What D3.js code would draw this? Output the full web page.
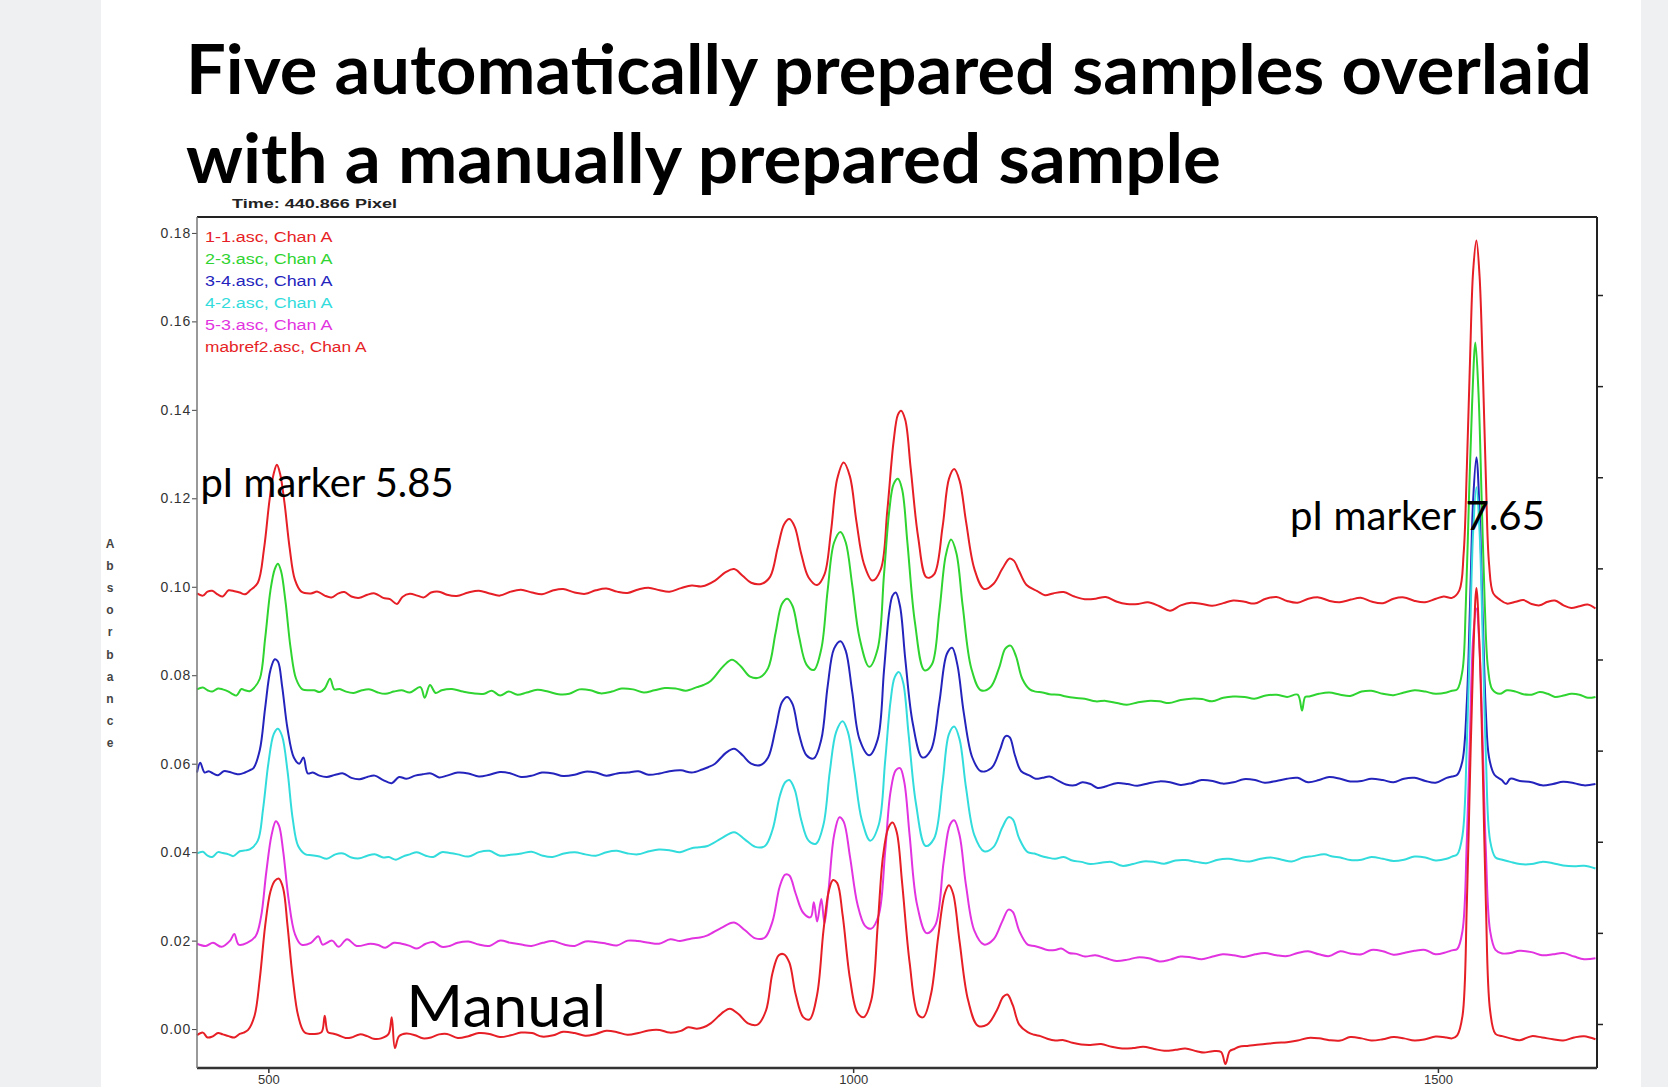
<!DOCTYPE html>
<html>
<head>
<meta charset="utf-8">
<script src="https://cdn.jsdelivr.net/npm/d3@7"></script>
<style>
  body { margin: 0; background: #fff; }
  svg { display: block; }
</style>
</head>
<body>
<svg width="1668" height="1087"></svg>
<script>
// axis ranges and ticks
var pixelDomain = [439, 1636]
var absDomain = [-0.0088, 0.1836]
var absTicks = [0, 0.02, 0.04, 0.06, 0.08, 0.10, 0.12, 0.14, 0.16, 0.18]
var pixelTicks = [500, 1000, 1500]
var rightDomain = [-0.483, 8.856]
var rightTicks = [0, 1, 2, 3, 4, 5, 6, 7, 8]

var titleLines = ["Five automatically prepared samples overlaid", "with a manually prepared sample"]
var timeLabel = "Time:  440.866  Pixel"
var yLabel = "Absorbance"
var legendNames = ["1-1.asc, Chan A", "2-3.asc, Chan A", "3-4.asc, Chan A", "4-2.asc, Chan A", "5-3.asc, Chan A", "mabref2.asc, Chan A"]
var colors = ["#e61e25", "#2fd431", "#2424bd", "#33dcdc", "#e233e0", "#e61e25"]

// traces: [pixel, absorbance]  (main points, then baseline noise)
var run11 = [[439,0.0985],[448,0.0989],[457,0.0982],[466,0.0992],[475.5,0.0987],[484.5,0.0992],[491,0.1009],[496.4,0.1088],[501,0.1196],[504.6,0.1256],[507.3,0.1276],[510,0.1256],[513.7,0.1192],[518.2,0.1088],[522.7,0.1016],[528.2,0.0989],[536.4,0.0985],[548.2,0.0980],[560,0.0985],[571,0.0978],[584.6,0.0982],[598.2,0.0975],[610,0.0961],[614.6,0.0977],[627.3,0.0980],[639.1,0.0987],[652.8,0.0982],[671,0.0987],[689.1,0.0985],[707.3,0.0989],[725.5,0.0987],[743.7,0.0992],[761.9,0.0987],[780,0.0992],[798.2,0.0989],[816.4,0.0994],[834.6,0.0992],[852.8,0.0997],[871,0.1001],[881.9,0.1014],[891,0.1033],[898.2,0.1040],[905.5,0.1025],[912.8,0.1009],[921.9,0.1007],[929.1,0.1023],[935.5,0.1088],[940.9,0.1141],[945.5,0.1153],[950,0.1136],[955.5,0.1076],[961.9,0.1021],[969.2,0.1004],[975.5,0.1028],[981,0.1124],[986.4,0.1244],[991.9,0.1281],[997.3,0.1249],[1002.8,0.1148],[1009.2,0.1052],[1016.4,0.1014],[1023.7,0.1040],[1029.2,0.1172],[1034.6,0.1329],[1038.3,0.1389],[1041,0.1398],[1044.6,0.1377],[1049.2,0.1268],[1055.6,0.1112],[1062.8,0.1021],[1069.2,0.1028],[1076.5,0.1136],[1081.9,0.1244],[1086.4,0.1266],[1091,0.1240],[1096.5,0.1148],[1103.7,0.1040],[1111.9,0.0995],[1120.1,0.1007],[1127.4,0.1040],[1133.8,0.1064],[1137.4,0.1059],[1142,0.1035],[1148.3,0.1004],[1157.4,0.0990],[1171,0.0985],[1189.2,0.0978],[1207.4,0.0973],[1225.6,0.0966],[1243.7,0.0961],[1261.9,0.0956],[1271,0.0946],[1280.1,0.0958],[1298.3,0.0961],[1316.5,0.0963],[1334.7,0.0966],[1352.8,0.0973],[1371,0.0968],[1389.2,0.0973],[1407.4,0.0968],[1425.6,0.0971],[1443.8,0.0966],[1462,0.0973],[1480.1,0.0968],[1498.3,0.0973],[1512,0.0975],[1518.3,0.0992],[1522,0.1076],[1524.7,0.1268],[1527.4,0.1509],[1530.1,0.1714],[1532.9,0.1783],[1535.6,0.1702],[1538.3,0.1497],[1541,0.1244],[1543.7,0.1052],[1547.3,0.0985],[1552.9,0.0971],[1566.5,0.0966],[1580.1,0.0961],[1593.8,0.0966],[1607.4,0.0958],[1621,0.0956],[1634.7,0.0951],
  [444,0.0980],[452,0.0991],[461,0.0978],[471,0.0990],[480,0.0983],[542,0.0989],[554,0.0976],[565,0.0988],[578,0.0975],[591,0.0985],[604,0.0972],[621,0.0984],[633,0.0976],[646,0.0989],[661,0.0979],[680,0.0991],[698,0.0980],[716,0.0993],[734,0.0983],[752,0.0995],[771,0.0984],[789,0.0996],[807,0.0986],[825,0.0998],[843,0.0989],[862,0.1003],[1164,0.0981],[1180,0.0988],[1198,0.0972],[1216,0.0977],[1234,0.0961],[1252,0.0965],[1289,0.0964],[1307,0.0957],[1325,0.0969],[1343,0.0962],[1362,0.0977],[1380,0.0964],[1398,0.0976],[1416,0.0965],[1434,0.0975],[1453,0.0963],[1471,0.0976],[1489,0.0965],[1505,0.0978],[1559,0.0962],[1573,0.0970],[1587,0.0958],[1600,0.0969],[1614,0.0952],[1628,0.0960]]

var run23 = [[439,0.0768],[448,0.0766],[457,0.0770],[466,0.0763],[472.7,0.0754],[480,0.0766],[487.3,0.0770],[492.7,0.0792],[497.3,0.0884],[501.8,0.0992],[505.5,0.1040],[508.2,0.1052],[510.9,0.1035],[514.6,0.0968],[519.1,0.0860],[523.7,0.0792],[529.1,0.0768],[539.1,0.0766],[548.2,0.0770],[552.8,0.0792],[556.4,0.0768],[566.4,0.0763],[580,0.0766],[593.7,0.0761],[607.3,0.0763],[621,0.0761],[630,0.0773],[633.7,0.0749],[638.2,0.0778],[648.2,0.0766],[666.4,0.0763],[684.6,0.0758],[698.2,0.0754],[705.5,0.0763],[720.9,0.0761],[739.1,0.0763],[757.3,0.0758],[775.5,0.0766],[793.7,0.0763],[811.9,0.0768],[830.1,0.0766],[848.2,0.0770],[866.4,0.0773],[878.2,0.0787],[889.2,0.0821],[896.4,0.0835],[903.7,0.0821],[911.9,0.0797],[920.1,0.0795],[927.3,0.0816],[933.7,0.0896],[939.1,0.0961],[943.7,0.0973],[948.3,0.0956],[953.7,0.0888],[960.1,0.0824],[966.4,0.0812],[972.8,0.0860],[978.2,0.0992],[983.7,0.1100],[989.2,0.1124],[993.7,0.1100],[999.2,0.1004],[1005.5,0.0884],[1013.7,0.0819],[1021,0.0860],[1026.4,0.1028],[1030.9,0.1172],[1034.6,0.1232],[1038.3,0.1244],[1041.9,0.1220],[1046.4,0.1100],[1052.8,0.0920],[1061,0.0811],[1067.3,0.0824],[1073.7,0.0944],[1079.2,0.1071],[1083.7,0.1107],[1088.3,0.1076],[1093.7,0.0956],[1101,0.0816],[1109.2,0.0766],[1117.4,0.0773],[1124.7,0.0816],[1130.1,0.0860],[1134.6,0.0867],[1139.2,0.0843],[1144.6,0.0792],[1151,0.0768],[1161.9,0.0761],[1175.6,0.0756],[1189.2,0.0749],[1207.4,0.0741],[1225.6,0.0737],[1243.7,0.0739],[1261.9,0.0741],[1280.1,0.0744],[1298.3,0.0746],[1316.5,0.0749],[1334.7,0.0751],[1352.8,0.0754],[1371,0.0751],[1380.1,0.0756],[1383.8,0.0720],[1386.5,0.0751],[1398.3,0.0758],[1416.5,0.0756],[1434.7,0.0763],[1452.9,0.0758],[1471,0.0761],[1489.2,0.0763],[1507.4,0.0761],[1516.5,0.0768],[1521,0.0811],[1523.8,0.0956],[1526.5,0.1196],[1529.2,0.1413],[1532,0.1552],[1534.7,0.1437],[1537.4,0.1196],[1540.1,0.0956],[1542.8,0.0816],[1546.5,0.0768],[1552.9,0.0758],[1566.5,0.0763],[1580.1,0.0756],[1593.8,0.0758],[1607.4,0.0754],[1621,0.0756],[1634.7,0.0751],
  [444,0.0772],[452,0.0763],[461,0.0768],[469,0.0758],[477,0.0769],[484,0.0764],[544,0.0762],[561,0.0769],[573,0.0760],[587,0.0768],[600,0.0758],[614,0.0766],[643,0.0760],[657,0.0769],[675,0.0759],[691,0.0765],[713,0.0756],[730,0.0767],[748,0.0757],[766,0.0768],[784,0.0759],[802,0.0770],[821,0.0761],[839,0.0771],[857,0.0765],[872,0.0778],[1156,0.0763],[1168,0.0757],[1182,0.0752],[1198,0.0747],[1216,0.0742],[1234,0.0733],[1252,0.0742],[1270,0.0737],[1289,0.0747],[1307,0.0741],[1325,0.0752],[1343,0.0747],[1362,0.0756],[1390,0.0752],[1407,0.0761],[1425,0.0753],[1443,0.0765],[1462,0.0755],[1480,0.0766],[1498,0.0758],[1512,0.0765],[1559,0.0766],[1573,0.0757],[1587,0.0762],[1600,0.0751],[1614,0.0758],[1628,0.0749]]

var run34 = [[439,0.0580],[441.8,0.0602],[445.5,0.0580],[452.7,0.0578],[461.8,0.0583],[470.9,0.0578],[480,0.0580],[487.3,0.0590],[492.7,0.0631],[497.3,0.0727],[501.8,0.0812],[505.5,0.0836],[508.2,0.0831],[511.8,0.0775],[516.4,0.0679],[521.8,0.0614],[526.4,0.0600],[530,0.0614],[533.7,0.0578],[543.7,0.0573],[557.3,0.0575],[571,0.0568],[584.6,0.0570],[598.2,0.0563],[605.5,0.0556],[611.8,0.0570],[625.5,0.0573],[639.1,0.0578],[652.8,0.0573],[671,0.0578],[689.1,0.0575],[707.3,0.0578],[725.5,0.0573],[743.7,0.0578],[761.9,0.0575],[780,0.0580],[798.2,0.0578],[816.4,0.0583],[834.6,0.0578],[852.8,0.0585],[871,0.0587],[881.9,0.0600],[891,0.0624],[898.2,0.0634],[905.5,0.0619],[912.8,0.0600],[920.9,0.0597],[927.3,0.0614],[933.7,0.0679],[939.1,0.0739],[943.7,0.0751],[948.3,0.0734],[953.7,0.0667],[960.1,0.0619],[966.4,0.0612],[972.8,0.0655],[978.2,0.0775],[983.7,0.0860],[989.2,0.0877],[993.7,0.0855],[999.2,0.0763],[1005.5,0.0655],[1013.7,0.0619],[1021,0.0655],[1026.4,0.0811],[1030.9,0.0944],[1033.7,0.0980],[1036.4,0.0987],[1040.1,0.0956],[1044.6,0.0836],[1051,0.0691],[1059.2,0.0614],[1066.5,0.0631],[1073.7,0.0739],[1080.1,0.0848],[1084.6,0.0862],[1089.1,0.0824],[1094.6,0.0715],[1101.9,0.0614],[1109.2,0.0583],[1118.3,0.0590],[1125.5,0.0631],[1130.1,0.0662],[1133.8,0.0660],[1138.3,0.0619],[1143.7,0.0583],[1151,0.0573],[1161.9,0.0568],[1175.6,0.0561],[1189.2,0.0551],[1202.9,0.0554],[1216.5,0.0549],[1234.6,0.0554],[1252.8,0.0556],[1271,0.0558],[1289.2,0.0556],[1307.4,0.0561],[1325.3,0.0558],[1343.7,0.0563],[1362,0.0561],[1380.1,0.0568],[1398.3,0.0563],[1416.5,0.0566],[1434.7,0.0561],[1452.9,0.0563],[1471,0.0566],[1489.2,0.0561],[1507.4,0.0568],[1516.5,0.0575],[1521,0.0607],[1524.7,0.0739],[1527.4,0.0956],[1530.1,0.1196],[1532.9,0.1293],[1535.6,0.1172],[1538.3,0.0932],[1541,0.0715],[1543.7,0.0614],[1548.3,0.0575],[1554.6,0.0563],[1558.2,0.0554],[1561.9,0.0566],[1580.1,0.0558],[1598.3,0.0554],[1616.5,0.0556],[1634.7,0.0554],
  [449,0.0583],[457,0.0574],[466,0.0582],[475,0.0576],[484,0.0585],[538,0.0580],[550,0.0570],[564,0.0578],[578,0.0565],[591,0.0573],[618,0.0566],[632,0.0576],[646,0.0569],[662,0.0580],[680,0.0571],[698,0.0581],[716,0.0570],[734,0.0580],[752,0.0572],[771,0.0582],[789,0.0573],[807,0.0580],[825,0.0575],[843,0.0583],[862,0.0580],[876,0.0592],[1156,0.0566],[1168,0.0571],[1182,0.0553],[1196,0.0558],[1209,0.0545],[1225,0.0556],[1243,0.0550],[1262,0.0560],[1280,0.0552],[1298,0.0563],[1316,0.0555],[1334,0.0565],[1352,0.0557],[1371,0.0566],[1389,0.0558],[1407,0.0570],[1425,0.0560],[1443,0.0566],[1462,0.0558],[1480,0.0568],[1498,0.0557],[1512,0.0571],[1570,0.0561],[1589,0.0551],[1607,0.0559],[1625,0.0551]]

var run42 = [[439,0.0397],[448,0.0392],[457,0.0400],[466,0.0395],[475.5,0.0402],[484.5,0.0407],[491,0.0426],[495.5,0.0498],[500,0.0600],[504.6,0.0667],[508.2,0.0679],[511.8,0.0662],[516.4,0.0583],[520.9,0.0474],[525.5,0.0414],[531.8,0.0395],[543.7,0.0390],[557.3,0.0395],[571,0.0388],[584.6,0.0392],[598.2,0.0388],[609.1,0.0383],[621,0.0395],[634.6,0.0392],[648.2,0.0400],[661.9,0.0395],[680,0.0400],[698.2,0.0392],[716.4,0.0397],[734.6,0.0392],[752.8,0.0397],[771,0.0395],[789.1,0.0400],[807.3,0.0397],[825.5,0.0402],[843.7,0.0404],[861.9,0.0409],[875.5,0.0414],[887.3,0.0431],[898.2,0.0445],[907.3,0.0429],[916.4,0.0412],[924.6,0.0414],[931,0.0450],[937.3,0.0527],[941.9,0.0558],[945.5,0.0563],[950.1,0.0541],[955.5,0.0474],[961.9,0.0426],[968.3,0.0419],[974.6,0.0462],[980.1,0.0583],[985.5,0.0672],[991,0.0696],[995.5,0.0672],[1001,0.0583],[1007.3,0.0474],[1014.6,0.0426],[1021.9,0.0462],[1027.4,0.0607],[1031.9,0.0739],[1035.5,0.0795],[1039.2,0.0807],[1042.8,0.0783],[1047.4,0.0667],[1053.7,0.0510],[1062,0.0414],[1069.2,0.0431],[1076.5,0.0558],[1081.9,0.0667],[1086.4,0.0684],[1091,0.0655],[1096.5,0.0546],[1103.7,0.0438],[1111.9,0.0402],[1120.1,0.0412],[1127.4,0.0455],[1132.8,0.0479],[1136.5,0.0474],[1142,0.0431],[1149.2,0.0400],[1160.1,0.0392],[1172.8,0.0385],[1187.4,0.0381],[1202.9,0.0373],[1221,0.0378],[1239.2,0.0373],[1257.4,0.0378],[1275.6,0.0381],[1293.7,0.0378],[1311.9,0.0383],[1330.1,0.0381],[1348.3,0.0385],[1366.5,0.0383],[1384.7,0.0388],[1402.8,0.0395],[1416.5,0.0388],[1434.7,0.0383],[1452.9,0.0385],[1471,0.0383],[1489.2,0.0388],[1507.4,0.0385],[1516.5,0.0395],[1521,0.0438],[1524.7,0.0643],[1527.4,0.0884],[1530.1,0.1124],[1532.9,0.1225],[1535.6,0.1124],[1538.3,0.0884],[1541,0.0619],[1544.6,0.0426],[1549.2,0.0388],[1561.9,0.0378],[1580.1,0.0373],[1598.3,0.0375],[1616.5,0.0368],[1634.7,0.0363],
  [444,0.0401],[452,0.0389],[461,0.0398],[470,0.0391],[480,0.0404],[537,0.0393],[550,0.0385],[564,0.0397],[578,0.0386],[591,0.0395],[603,0.0389],[615,0.0390],[627,0.0400],[641,0.0389],[655,0.0398],[671,0.0390],[689,0.0403],[707,0.0394],[725,0.0401],[743,0.0389],[762,0.0400],[780,0.0392],[798,0.0403],[816,0.0395],[834,0.0406],[852,0.0400],[868,0.0411],[1155,0.0397],[1166,0.0388],[1180,0.0389],[1195,0.0378],[1212,0.0376],[1230,0.0369],[1248,0.0379],[1266,0.0374],[1284,0.0382],[1302,0.0375],[1321,0.0385],[1339,0.0379],[1357,0.0388],[1375,0.0379],[1393,0.0391],[1410,0.0390],[1425,0.0382],[1443,0.0389],[1462,0.0380],[1480,0.0390],[1498,0.0381],[1512,0.0390],[1555,0.0383],[1570,0.0373],[1589,0.0378],[1607,0.0370],[1625,0.0369]]

var run53 = [[439,0.0193],[446.4,0.0188],[452.7,0.0195],[460,0.0186],[467.3,0.0200],[470.9,0.0215],[474.6,0.0191],[481.8,0.0195],[489.1,0.0210],[493.7,0.0253],[498.2,0.0354],[502.7,0.0438],[506.4,0.0470],[509.1,0.0460],[512.7,0.0402],[517.3,0.0294],[522.7,0.0215],[528.2,0.0191],[536.4,0.0195],[542.7,0.0210],[546.4,0.0191],[554.6,0.0200],[560,0.0186],[567.3,0.0203],[575.5,0.0188],[587.3,0.0193],[600,0.0184],[607.3,0.0195],[620.9,0.0188],[634.6,0.0193],[648.2,0.0186],[661.9,0.0195],[680,0.0191],[698.2,0.0200],[716.4,0.0191],[734.6,0.0195],[752.8,0.0191],[771,0.0198],[789.1,0.0193],[807.3,0.0200],[825.5,0.0195],[843.7,0.0203],[861.9,0.0205],[875.5,0.0212],[887.3,0.0229],[898.2,0.0241],[907.3,0.0224],[916.4,0.0205],[924.6,0.0207],[931,0.0243],[937.3,0.0323],[941.9,0.0349],[945.5,0.0347],[950.9,0.0306],[957.3,0.0263],[963.7,0.0253],[966.4,0.0287],[969.2,0.0243],[972.8,0.0294],[975.5,0.0239],[979.1,0.0318],[983.7,0.0438],[988.3,0.0479],[991.9,0.0469],[997.3,0.0390],[1003.7,0.0282],[1010,0.0234],[1015.5,0.0227],[1021.9,0.0258],[1027.4,0.0402],[1031.9,0.0535],[1036.4,0.0585],[1040.1,0.0590],[1043.7,0.0559],[1048.3,0.0438],[1054.6,0.0282],[1062.8,0.0217],[1070.1,0.0234],[1077.4,0.0378],[1082.8,0.0462],[1086.4,0.0472],[1091,0.0438],[1096.5,0.0325],[1103.7,0.0222],[1111.9,0.0191],[1120.1,0.0203],[1127.4,0.0243],[1132.8,0.0270],[1136.5,0.0265],[1142,0.0222],[1149.2,0.0191],[1160.1,0.0184],[1172.8,0.0179],[1184.6,0.0172],[1198.3,0.0164],[1216.5,0.0160],[1234.6,0.0157],[1252.8,0.0160],[1271,0.0157],[1289.2,0.0162],[1307.4,0.0164],[1325.3,0.0167],[1343.7,0.0169],[1362,0.0167],[1380.1,0.0172],[1398.3,0.0169],[1416.5,0.0176],[1434.7,0.0169],[1452.9,0.0176],[1471,0.0172],[1489.2,0.0179],[1507.4,0.0174],[1516.5,0.0181],[1521,0.0222],[1524.7,0.0426],[1527.4,0.0667],[1530.1,0.0884],[1532.9,0.0951],[1535.6,0.0860],[1538.3,0.0643],[1541,0.0402],[1544.6,0.0222],[1549.2,0.0179],[1561.9,0.0172],[1580.1,0.0174],[1598.3,0.0169],[1616.5,0.0164],[1634.7,0.0160],
  [594,0.0190],[614,0.0193],[627,0.0182],[641,0.0197],[655,0.0188],[671,0.0198],[689,0.0188],[707,0.0195],[725,0.0188],[743,0.0199],[762,0.0188],[780,0.0197],[798,0.0189],[816,0.0199],[834,0.0193],[852,0.0199],[869,0.0207],[1155,0.0188],[1166,0.0179],[1178,0.0182],[1191,0.0170],[1207,0.0167],[1225,0.0154],[1243,0.0162],[1262,0.0153],[1280,0.0164],[1298,0.0158],[1316,0.0169],[1334,0.0163],[1352,0.0172],[1371,0.0165],[1389,0.0176],[1407,0.0165],[1425,0.0171],[1443,0.0179],[1462,0.0168],[1480,0.0177],[1498,0.0169],[1512,0.0178],[1555,0.0171],[1570,0.0177],[1589,0.0167],[1607,0.0172],[1625,0.0158]]

var manual = [[439,-0.0014],[448,-0.0019],[457,-0.0009],[466,-0.0016],[475.5,-0.0011],[482.7,-0.0002],[488.2,0.0030],[492.7,0.0114],[497.3,0.0234],[501.8,0.0311],[505.5,0.0335],[509.1,0.0340],[512.7,0.0318],[516.4,0.0234],[520.9,0.0114],[525.5,0.0030],[530.9,-0.0007],[539.1,-0.0011],[545.5,-0.0007],[548.2,0.0030],[550.9,-0.0007],[560,-0.0014],[571,-0.0019],[584.6,-0.0016],[596.4,-0.0021],[602.8,-0.0011],[605.5,0.0027],[608.2,-0.0043],[611.8,-0.0016],[625.5,-0.0014],[639.1,-0.0019],[652.8,-0.0011],[671,-0.0016],[689.1,-0.0011],[707.3,-0.0014],[725.5,-0.0009],[743.7,-0.0014],[761.9,-0.0009],[780,-0.0011],[798.2,-0.0007],[816.4,-0.0009],[834.6,-0.0002],[852.8,-0.0004],[866.4,0.0001],[878.2,0.0013],[889.2,0.0039],[894.6,0.0046],[901.9,0.0034],[910.1,0.0013],[918.3,0.0010],[925.5,0.0042],[931,0.0126],[936.4,0.0167],[940.9,0.0169],[945.5,0.0150],[950.9,0.0078],[957.3,0.0027],[962.8,0.0022],[969.2,0.0078],[974.6,0.0222],[979.1,0.0311],[982.8,0.0337],[986.4,0.0330],[991,0.0258],[997.3,0.0114],[1003.7,0.0037],[1009.2,0.0027],[1015.5,0.0065],[1021,0.0234],[1025.5,0.0390],[1030.1,0.0455],[1033.7,0.0467],[1037.3,0.0445],[1041.9,0.0330],[1048.3,0.0150],[1055.6,0.0032],[1060.1,0.0027],[1066.5,0.0078],[1072.8,0.0210],[1078.3,0.0306],[1081.9,0.0325],[1085.5,0.0306],[1091,0.0198],[1098.3,0.0065],[1106.5,0.0008],[1114.6,0.0010],[1122.8,0.0042],[1128.3,0.0073],[1131.9,0.0078],[1136.5,0.0054],[1142,0.0010],[1149.2,-0.0007],[1160.1,-0.0016],[1172.8,-0.0026],[1187.4,-0.0031],[1202.9,-0.0036],[1221,-0.0040],[1239.2,-0.0043],[1257.4,-0.0045],[1275.6,-0.0047],[1293.7,-0.0050],[1307.4,-0.0050],[1314.6,-0.0052],[1318.3,-0.0079],[1322,-0.0050],[1330.1,-0.0040],[1343.7,-0.0036],[1362,-0.0031],[1380.1,-0.0026],[1398.3,-0.0021],[1416.5,-0.0026],[1434.7,-0.0021],[1452.9,-0.0023],[1471,-0.0021],[1489.2,-0.0023],[1507.4,-0.0019],[1516.5,-0.0014],[1521,0.0030],[1524.7,0.0282],[1527.4,0.0570],[1530.1,0.0835],[1532.9,0.0997],[1535.6,0.0860],[1538.3,0.0595],[1541,0.0282],[1544.6,0.0042],[1549.2,-0.0011],[1561.9,-0.0021],[1580.1,-0.0016],[1598.3,-0.0023],[1616.5,-0.0019],[1634.7,-0.0023],
  [444,-0.0008],[452,-0.0017],[461,-0.0012],[471,-0.0019],[479,-0.0008],[555,-0.0010],[566,-0.0020],[578,-0.0012],[590,-0.0022],[618,-0.0010],[632,-0.0021],[646,-0.0012],[662,-0.0020],[680,-0.0009],[698,-0.0018],[716,-0.0008],[734,-0.0017],[752,-0.0006],[771,-0.0015],[789,-0.0004],[807,-0.0013],[825,-0.0003],[843,-0.0008],[859,0.0004],[872,0.0004],[1155,-0.0013],[1166,-0.0022],[1180,-0.0025],[1195,-0.0035],[1212,-0.0034],[1230,-0.0044],[1248,-0.0040],[1266,-0.0049],[1284,-0.0044],[1300,-0.0053],[1326,-0.0045],[1337,-0.0038],[1352,-0.0034],[1371,-0.0030],[1389,-0.0020],[1407,-0.0025],[1425,-0.0018],[1443,-0.0026],[1462,-0.0018],[1480,-0.0026],[1498,-0.0017],[1512,-0.0021],[1555,-0.0016],[1570,-0.0025],[1589,-0.0019],[1607,-0.0026],[1625,-0.0016]]

var series = [run11, run23, run34, run42, run53, manual]

var notes = [
  {text: "pI marker 5.85", x: 442, y: 0.1203, size: 40, width: 253},
  {text: "pI marker 7.65", x: 1373.5, y: 0.1128, size: 40, width: 255},
  {text: "Manual", x: 618, y: 0.0004, size: 58, width: 200}
]

var svg = d3.select("svg"),
    width = +svg.attr("width"),
    height = +svg.attr("height")

var margin = {top: 217, right: 71, bottom: 19, left: 197}

var x = d3.scaleLinear().domain(pixelDomain).range([margin.left, width - margin.right])
var y = d3.scaleLinear().domain(absDomain).range([height - margin.bottom, margin.top])
var yRight = d3.scaleLinear().domain(rightDomain).range([height - margin.bottom, margin.top])

// slide background with grey side bands
svg.append("rect").attr("width", width).attr("height", height).attr("fill", "#fff")
svg.append("rect").attr("width", 101).attr("height", height).attr("fill", "#eff0f2")
svg.append("rect").attr("x", 1641).attr("width", width - 1641).attr("height", height).attr("fill", "#eff0f2")

// title
svg.append("g").selectAll("text")
  .data(titleLines)
  .enter().append("text")
    .attr("x", 186)
    .attr("y", function(d, i) { return 94 + i * 89 })
    .attr("textLength", function(d, i) { return i == 0 ? 1406 : 1035 })
    .attr("lengthAdjust", "spacingAndGlyphs")
    .style("font-family", "Lato, 'Open Sans', sans-serif")
    .style("font-weight", "bold")
    .style("font-size", "68px")
    .attr("fill", "#000")
    .text(function(d) { return d })

svg.append("text")
  .attr("x", 232).attr("y", 208)
  .attr("textLength", 165).attr("lengthAdjust", "spacingAndGlyphs")
  .style("font-family", "'Liberation Sans', Arial, sans-serif")
  .style("font-weight", "bold")
  .style("font-size", "13px")
  .attr("fill", "#222")
  .text(timeLabel)

// traces, points kept in pixel order
var line = d3.line()
  .x(function(d) { return x(d[0]) })
  .y(function(d) { return y(d[1]) })
  .curve(d3.curveCatmullRom.alpha(0.5))

svg.append("g").selectAll("path")
  .data(series.map(function(s) { return s.slice().sort(function(a, b) { return a[0] - b[0] }) }))
  .enter().append("path")
    .attr("d", line)
    .attr("fill", "none")
    .attr("stroke", function(d, i) { return colors[i] })
    .attr("stroke-width", 2)
    .attr("stroke-linejoin", "round")

// left axis
var left = svg.append("g")
  .attr("transform", "translate(" + margin.left + ",0)")
  .call(d3.axisLeft(y).tickValues(absTicks).tickFormat(d3.format(".2f")).tickSize(5).tickPadding(1))
left.select(".domain").remove()
left.selectAll("line").attr("stroke", "#444")
left.selectAll("text")
  .style("font-family", "'Liberation Sans', Arial, sans-serif")
  .style("font-size", "14px")
  .style("letter-spacing", "0.8px")
  .attr("fill", "#333")

// bottom axis, labels kept just inside the lower edge
var bottom = svg.append("g")
  .attr("transform", "translate(0," + (height - margin.bottom) + ")")
  .call(d3.axisBottom(x).tickValues(pixelTicks).tickFormat(d3.format("d")).tickSize(5).tickPadding(2))
bottom.select(".domain").remove()
bottom.selectAll("line").attr("stroke", "#333").attr("stroke-width", 1.5)
bottom.selectAll("text")
  .style("font-family", "'Liberation Sans', Arial, sans-serif")
  .style("font-size", "13px")
  .attr("fill", "#333")

// right axis, ticks only
var right = svg.append("g")
  .attr("transform", "translate(" + (width - margin.right) + ",0)")
  .call(d3.axisRight(yRight).tickValues(rightTicks).tickFormat("").tickSize(6))
right.select(".domain").remove()
right.selectAll("line").attr("stroke", "#222").attr("stroke-width", 1.5)

// frame
var x0 = margin.left, x1 = width - margin.right, y0 = margin.top, y1 = height - margin.bottom
svg.append("line").attr("x1", x0).attr("x2", x1).attr("y1", y0).attr("y2", y0).attr("stroke", "#222").attr("stroke-width", 2)
svg.append("line").attr("x1", x1).attr("x2", x1).attr("y1", y0).attr("y2", y1).attr("stroke", "#222").attr("stroke-width", 2)
svg.append("line").attr("x1", x0).attr("x2", x1).attr("y1", y1).attr("y2", y1).attr("stroke", "#333").attr("stroke-width", 2.5)
svg.append("line").attr("x1", x0).attr("x2", x0).attr("y1", y0).attr("y2", y1).attr("stroke", "#777").attr("stroke-width", 1.5)

// stacked y label
svg.append("g").selectAll("text")
  .data(yLabel.split(""))
  .enter().append("text")
    .attr("x", 110)
    .attr("y", function(d, i) { return 548 + i * 22.1 })
    .attr("text-anchor", "middle")
    .style("font-family", "'Liberation Sans', Arial, sans-serif")
    .style("font-size", "12px")
    .style("font-weight", "bold")
    .attr("fill", "#444")
    .text(function(d) { return d })

// legend
svg.append("g").selectAll("text")
  .data(legendNames)
  .enter().append("text")
    .attr("x", 205)
    .attr("y", function(d, i) { return 242 + i * 22 })
    .attr("textLength", function(d) { return d.length * 8.5 })
    .attr("lengthAdjust", "spacingAndGlyphs")
    .style("font-family", "'Liberation Sans', Arial, sans-serif")
    .style("font-size", "14px")
    .attr("fill", function(d, i) { return colors[i] })
    .text(function(d) { return d })

// annotations
svg.append("g").selectAll("text")
  .data(notes)
  .enter().append("text")
    .attr("x", function(d) { return x(d.x) })
    .attr("y", function(d) { return y(d.y) })
    .attr("textLength", function(d) { return d.width })
    .attr("lengthAdjust", "spacingAndGlyphs")
    .style("font-family", "Lato, 'Open Sans', sans-serif")
    .style("font-size", function(d) { return d.size + "px" })
    .attr("fill", "#000")
    .text(function(d) { return d.text })
</script>
</body>
</html>
